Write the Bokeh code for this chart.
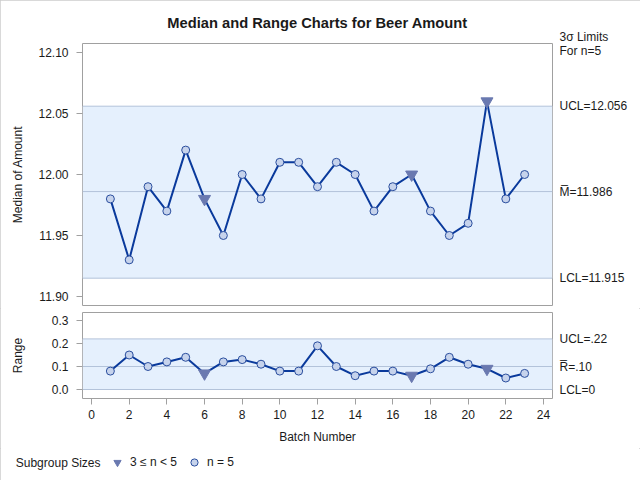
from bokeh.plotting import figure
from bokeh.models import (Range1d, FixedTicker, NumeralTickFormatter, BoxAnnotation,
                          Span, Legend, LegendItem, ColumnDataSource, LinearAxis)
from bokeh.layouts import column
from bokeh.embed import file_html
from bokeh.resources import INLINE

# ---------------- data ----------------
batches = list(range(1, 24))
medians = [11.98, 11.93, 11.99, 11.97, 12.02, 11.98, 11.95, 12.00, 11.98, 12.01,
           12.01, 11.99, 12.01, 12.00, 11.97, 11.99, 12.00, 11.97, 11.95, 11.96,
           12.06, 11.98, 12.00]
ranges = [0.08, 0.15, 0.10, 0.12, 0.14, 0.07, 0.12, 0.13, 0.11, 0.08,
          0.08, 0.19, 0.10, 0.06, 0.08, 0.08, 0.06, 0.09, 0.14, 0.11,
          0.09, 0.05, 0.07]
sizes = [5, 5, 5, 5, 5, 4, 5, 5, 5, 5, 5, 5, 5, 5, 5, 5, 4, 5, 5, 5, 4, 5, 5]

med_ucl, med_center, med_lcl = 12.056, 11.986, 11.915
rng_ucl, rng_center, rng_lcl = 0.22, 0.10, 0.0

med_ticks = [11.90, 11.95, 12.00, 12.05, 12.10]
rng_ticks = [0.0, 0.1, 0.2, 0.3]
x_ticks = list(range(0, 25, 2))

title_text = "Median and Range Charts for Beer Amount"
limits_note = "3\u03c3 Limits\nFor n=5"
legend_title = "Subgroup Sizes"
legend_small = "3 \u2264 n < 5"
legend_full = "n = 5"

# ---------------- styles ----------------
FONT = "Liberation Sans"
BAND = "#E5F0FD"
REFLINE = "#B3C3DA"
FRAME = "#A0A0A0"
LINE = "#0A3A9C"
CIRC_FILL = "#C6D3EC"
CIRC_EDGE = "#2A4E9E"
TRI_FILL = "#6A79B0"
TXT = "#1A1A1A"

W = 640
x_lo, x_hi = -0.48, 24.48
xr = Range1d(x_lo, x_hi)

full_idx = [i for i, n in enumerate(sizes) if n == 5]
small_idx = [i for i, n in enumerate(sizes) if 3 <= n < 5]
src = ColumnDataSource(dict(x=batches, med=medians, rng=ranges))
src_full = ColumnDataSource(dict(x=[batches[i] for i in full_idx],
                                 med=[medians[i] for i in full_idx],
                                 rng=[ranges[i] for i in full_idx]))
src_small = ColumnDataSource(dict(x=[batches[i] for i in small_idx],
                                  med=[medians[i] for i in small_idx],
                                  rng=[ranges[i] for i in small_idx]))

circle_kw = dict(marker="circle", size=8, fill_color=CIRC_FILL,
                 line_color=CIRC_EDGE, line_width=1)
tri_kw = dict(marker="inverted_triangle", size=12, fill_color=TRI_FILL,
              line_color=TRI_FILL, line_width=1)


def style_axes(p):
    p.outline_line_color = FRAME
    p.outline_line_width = 1
    p.xgrid.visible = False
    p.ygrid.visible = False
    for ax in p.axis:
        ax.axis_line_color = None
        ax.major_tick_line_color = FRAME
        ax.minor_tick_line_color = None
        ax.major_tick_out = 6
        ax.major_tick_in = 0
        ax.major_label_text_font = FONT
        ax.major_label_text_font_size = "12px"
        ax.major_label_text_color = TXT
        ax.axis_label_text_font = FONT
        ax.axis_label_text_font_size = "12px"
        ax.axis_label_text_font_style = "normal"
        ax.axis_label_text_color = TXT


def text_axis(p, side, ticks, labels, standoff):
    ax = LinearAxis(ticker=FixedTicker(ticks=ticks),
                    major_label_overrides=dict(zip(ticks, labels)),
                    axis_line_color=None, major_tick_line_color=None,
                    minor_tick_line_color=None, major_tick_out=0, major_tick_in=0,
                    major_label_standoff=standoff, major_label_text_font=FONT,
                    major_label_text_font_size="12px", major_label_text_color=TXT,
                    major_label_text_line_height=1.0)
    p.add_layout(ax, side)


# ---------------- upper (median) chart ----------------
y1_lo, y1_hi = 11.8926, 12.1074
p1 = figure(width=W, height=308, x_range=xr, y_range=Range1d(y1_lo, y1_hi),
            x_axis_location=None, output_backend="svg", toolbar_location=None,
            min_border_left=82, min_border_right=88, min_border_top=43,
            min_border_bottom=3)
p1.title.text = title_text
p1.title.align = "center"
p1.title.text_font = FONT
p1.title.text_font_size = "14.7px"
p1.title.text_font_style = "bold"
p1.title.text_color = TXT
p1.title.standoff = 25
style_axes(p1)
p1.yaxis.ticker = FixedTicker(ticks=med_ticks)
p1.yaxis.formatter = NumeralTickFormatter(format="0.00")
p1.yaxis.axis_label = "Median of Amount"
p1.yaxis.major_label_standoff = 8
p1.yaxis.axis_label_standoff = 10

p1.add_layout(BoxAnnotation(bottom=med_lcl, top=med_ucl, fill_color=BAND,
                            fill_alpha=1, line_color=None, level="underlay"))
for v in (med_lcl, med_center, med_ucl):
    p1.add_layout(Span(location=v, dimension="width", line_color=REFLINE,
                       line_width=1, level="underlay"))
p1.line("x", "med", source=src, line_color=LINE, line_width=2)
p1.scatter("x", "med", source=src_full, **circle_kw)
p1.scatter("x", "med", source=src_small, **tri_kw)

text_axis(p1, "right", [med_lcl, med_center, med_ucl, y1_hi],
          [f"LCL={med_lcl:.3f}", f"M\u0305={med_center:.3f}",
           f"UCL={med_ucl:.3f}", limits_note], 7)

# ---------------- lower (range) chart ----------------
y2_lo, y2_hi = -0.0391, 0.3348
p2 = figure(width=W, height=140, x_range=xr, y_range=Range1d(y2_lo, y2_hi),
            output_backend="svg", toolbar_location=None,
            min_border_left=82, min_border_right=88, min_border_top=4,
            min_border_bottom=50)
style_axes(p2)
p2.yaxis.ticker = FixedTicker(ticks=rng_ticks)
p2.yaxis.formatter = NumeralTickFormatter(format="0.0")
p2.yaxis.axis_label = "Range"
p2.yaxis.major_label_standoff = 8
p2.yaxis.axis_label_standoff = 24
p2.xaxis.ticker = FixedTicker(ticks=x_ticks)
p2.xaxis.axis_label = "Batch Number"
p2.xaxis.major_label_standoff = 5
p2.xaxis.axis_label_standoff = 8

p2.add_layout(BoxAnnotation(bottom=rng_lcl, top=rng_ucl, fill_color=BAND,
                            fill_alpha=1, line_color=None, level="underlay"))
for v in (rng_lcl, rng_center, rng_ucl):
    p2.add_layout(Span(location=v, dimension="width", line_color=REFLINE,
                       line_width=1, level="underlay"))
p2.line("x", "rng", source=src, line_color=LINE, line_width=2)
p2.scatter("x", "rng", source=src_full, **circle_kw)
p2.scatter("x", "rng", source=src_small, **tri_kw)

text_axis(p2, "right", [rng_lcl, rng_center, rng_ucl],
          [f"LCL={rng_lcl:g}", "R\u0305=" + f"{rng_center:.2f}"[1:],
           "UCL=" + f"{rng_ucl:.2f}"[1:]], 7)

# ---------------- legend strip ----------------
p3 = figure(width=W, height=32, x_range=Range1d(0, 1), y_range=Range1d(0, 1),
            x_axis_location=None, y_axis_location=None, output_backend="svg",
            toolbar_location=None, min_border=0, min_border_bottom=4,
            outline_line_color=None)
p3.xgrid.visible = False
p3.ygrid.visible = False
lr_small = p3.scatter("x", "rng", source=src_small, visible=False, **tri_kw)
lr_full = p3.scatter("x", "rng", source=src_full, visible=False, **circle_kw)
# legend heading as a left-side label, pulled to the left edge of the page
text_axis(p3, "left", [0.5], [legend_title], -18)
leg = Legend(items=[LegendItem(label=legend_small, renderers=[lr_small]),
                    LegendItem(label=legend_full, renderers=[lr_full])],
             orientation="horizontal", location=(26, 5),
             glyph_width=18, glyph_height=18, label_height=18,
             label_standoff=4, spacing=8, padding=0, margin=0,
             border_line_color=None, background_fill_alpha=0,
             label_text_font=FONT, label_text_font_size="12px",
             label_text_color=TXT)
p3.add_layout(leg, "center")

layout = column(p1, p2, p3, spacing=0,
                styles={"outline": "1px solid #CCCCCC", "outline-offset": "-1px"})
open("out.html", "w").write(file_html(layout, INLINE))
